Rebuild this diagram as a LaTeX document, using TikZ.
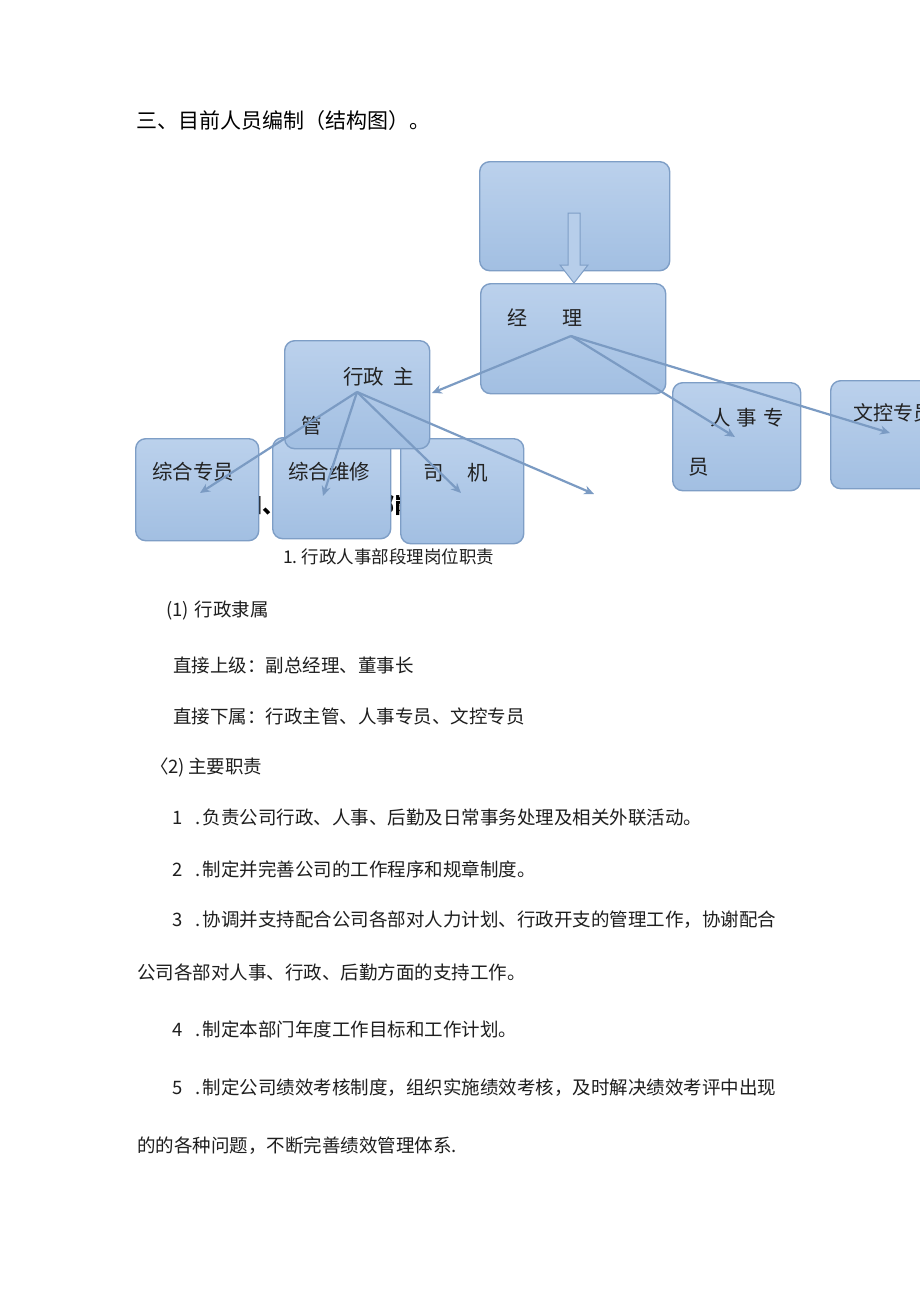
\documentclass[tikz,border=0pt]{standalone}
\usepackage{fontspec}
\setmainfont{Noto Sans CJK SC}
\usetikzlibrary{arrows.meta}
\definecolor{boxtop}{HTML}{BBD1EC}
\definecolor{boxbot}{HTML}{A2BFE2}
\definecolor{boxline}{HTML}{7E9EC6}
\definecolor{conncol}{HTML}{7B9BC3}
\definecolor{boxtext}{HTML}{222222}
\definecolor{bodytext}{HTML}{1E1E1E}
\newcommand{\fs}[1]{\fontsize{#1pt}{#1pt}\selectfont}
\tikzset{
  x=1pt, y=-1pt,
  orgbox/.style={draw=boxline, line width=1.4pt, rounded corners=10pt,
    top color=boxtop, bottom color=boxbot, inner sep=0pt, anchor=north west},
  conn/.style={draw=conncol, line width=2.2pt, -{Stealth[length=10pt,width=9pt]}},
  boxlabel/.style={anchor=west, inner sep=0pt, text=boxtext, font=\fs{20.5}},
  body/.style={anchor=west, inner sep=0pt, text=bodytext, font=\fs{18.5}},
}
\begin{document}
\begin{tikzpicture}
\useasboundingbox (0,0) rectangle (920,1301);
\clip (0,0) rectangle (920,1301);
\fill[white] (0,0) rectangle (920,1301);

% title
\node[anchor=west, inner sep=0pt, text=black, font=\fs{21}] (title) at (136,121) {三、目前人员编制（结构图）。};

% heading hidden behind boxes
\node[anchor=west, inner sep=0pt, text=black, font=\fs{22}\bfseries] (hidden) at (240,505) {四、行政人事部岗位职责};

% boxes
\node[orgbox, minimum width=190pt, minimum height=109pt] (top) at (479,161) {};
\node[orgbox, minimum width=185pt, minimum height=110pt] (jl) at (480,283) {};
\node[orgbox, minimum width=123pt, minimum height=102pt] (zhzy) at (135,438) {};
\node[orgbox, minimum width=118pt, minimum height=101pt] (zhwx) at (272,437) {};
\node[orgbox, minimum width=123pt, minimum height=105pt] (sj) at (400,438) {};
\node[orgbox, minimum width=145pt, minimum height=108pt] (xzzg) at (284,340) {};
\node[orgbox, minimum width=128pt, minimum height=108pt] (rszy) at (672,382) {};
\node[orgbox, minimum width=140pt, minimum height=108pt] (wkzy) at (830,380) {};

% hollow block arrow from top box to manager box
\filldraw[draw=boxline, fill=boxtop!85!boxbot, line width=1pt]
  (568,213) -- (580,213) -- (580,265) -- (588,265) -- (574,283) -- (560,265) -- (568,265) -- cycle;

% box labels
\node[boxlabel, font=\fs{20}] (tjl) at (507,318) {经\hspace{35pt}理};
\node[boxlabel] (txz) at (343,377) {行政\hspace{9pt}主};
\node[boxlabel] (txz2) at (301,426) {管};
\node[boxlabel] (tzy) at (152,472) {综合专员};
\node[boxlabel] (twx) at (288,472) {综合维修};
\node[boxlabel] (tsj) at (423,473) {司\hspace{24pt}机};
\node[boxlabel] (trs) at (710,418) {人\hspace{6pt}事\hspace{6pt}专};
\node[boxlabel] (trs2) at (688,467) {员};
\node[boxlabel, font=\fs{20}] (twk) at (853,413) {文控专员};

% connector points
\coordinate (jlsrc) at (571,336);
\coordinate (xzsrc) at (357,392);
\coordinate (xzend) at (432,393);
\coordinate (rsend) at (735,437);
\coordinate (wkend) at (890,433);
\coordinate (zyend) at (200,493);
\coordinate (wxend) at (323,496);
\coordinate (sjend) at (461,493);
\coordinate (freeend) at (594,494);

\draw[conn] (jlsrc) -- (xzend);
\draw[conn] (jlsrc) -- (rsend);
\draw[conn] (jlsrc) -- (wkend);
\draw[conn] (xzsrc) -- (zyend);
\draw[conn] (xzsrc) -- (wxend);
\draw[conn] (xzsrc) -- (sjend);
\draw[conn] (xzsrc) -- (freeend);

% body text
\node[body, font=\fs{17.5}] (l0) at (283,557) {1.\hspace{4pt}行政人事部段理岗位职责};
\node[body] (l1) at (166,611) {(1)\hspace{6pt}行政隶属};
\node[body] (l2) at (173,665) {直接上级：副总经理、董事长};
\node[body] (l3) at (173,716) {直接下属：行政主管、人事专员、文控专员};
\node[body] (l4) at (150,767) {〈2)\hspace{3pt}主要职责};
\node[body] (l5) at (172,818) {1\hspace{13pt}.\hspace{2pt}负责公司行政、人事、后勤及日常事务处理及相关外联活动。};
\node[body] (l6) at (172,869) {2\hspace{13pt}.\hspace{2pt}制定并完善公司的工作程序和规章制度。};
\node[body] (l7) at (172,920) {3\hspace{13pt}.\hspace{2pt}协调并支持配合公司各部对人力计划、行政开支的管理工作，协谢配合};
\node[body] (l8) at (137,972) {公司各部对人事、行政、后勤方面的支持工作。};
\node[body] (l9) at (172,1029) {4\hspace{13pt}.\hspace{2pt}制定本部门年度工作目标和工作计划。};
\node[body] (l10) at (172,1088) {5\hspace{13pt}.\hspace{2pt}制定公司绩效考核制度，组织实施绩效考核，及时解决绩效考评中出现};
\node[body] (l11) at (137,1146) {的的各种问题，不断完善绩效管理体系.};
\end{tikzpicture}
\end{document}
